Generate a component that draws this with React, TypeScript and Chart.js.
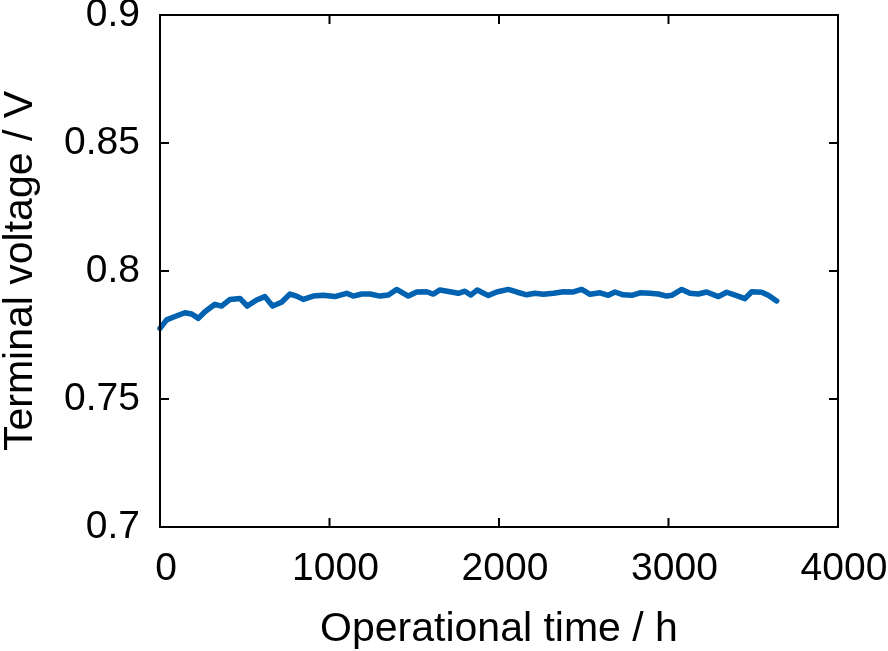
import React, { useEffect, useRef } from "react";
import { Chart, registerables } from "chart.js";

Chart.register(...registerables);

const times = [0, 39, 88, 147, 187, 226, 265, 324, 363, 413, 472, 515, 570, 619, 664, 717, 767, 806, 845, 904, 963, 1032, 1101, 1140, 1190, 1239, 1298, 1347, 1396, 1465, 1514, 1573, 1612, 1652, 1711, 1760, 1799, 1833, 1872, 1937, 1986, 2055, 2104, 2163, 2212, 2262, 2321, 2380, 2439, 2488, 2537, 2596, 2645, 2684, 2733, 2783, 2832, 2891, 2940, 2989, 3019, 3078, 3127, 3176, 3225, 3294, 3343, 3402, 3451, 3491, 3550, 3589, 3638];
const voltages = [0.7776, 0.7809, 0.7822, 0.7837, 0.7832, 0.7815, 0.7841, 0.787, 0.7863, 0.7889, 0.7893, 0.7863, 0.7887, 0.79, 0.7863, 0.7878, 0.791, 0.7902, 0.7889, 0.7902, 0.7905, 0.79, 0.7913, 0.7902, 0.791, 0.791, 0.7902, 0.7906, 0.7928, 0.7902, 0.7918, 0.7919, 0.791, 0.7926, 0.7919, 0.7913, 0.7921, 0.7906, 0.7926, 0.7904, 0.7918, 0.7928, 0.7918, 0.7907, 0.7913, 0.7909, 0.7913, 0.7919, 0.7918, 0.7928, 0.7909, 0.7915, 0.7905, 0.7918, 0.7907, 0.7905, 0.7915, 0.7913, 0.791, 0.7902, 0.7905, 0.7928, 0.7913, 0.791, 0.7918, 0.79, 0.7917, 0.7904, 0.7892, 0.7919, 0.7917, 0.7905, 0.7883];

const xTicks = [0, 1000, 2000, 3000, 4000];
const yTicks = [0.7, 0.75, 0.8, 0.85, 0.9];
const xTitle = "Operational time / h";
const yTitle = "Terminal voltage / V";

const FONT = "'Liberation Sans', Arial, Helvetica, sans-serif";

const framePlugin = {
  id: "frame",
  afterDatasetsDraw(chart: any) {
    const { ctx, chartArea } = chart;
    const { left, right, top, bottom } = chartArea;
    const xs = chart.scales.x;
    const ys = chart.scales.y;
    const tl = 9;
    ctx.save();
    ctx.strokeStyle = "#000";
    ctx.lineWidth = 2;
    ctx.beginPath();
    xTicks.forEach((v) => {
      const px = xs.getPixelForValue(v);
      ctx.moveTo(px, bottom);
      ctx.lineTo(px, bottom - tl);
      ctx.moveTo(px, top);
      ctx.lineTo(px, top + tl);
    });
    yTicks.forEach((v) => {
      const py = ys.getPixelForValue(v);
      ctx.moveTo(left, py);
      ctx.lineTo(left + tl, py);
      ctx.moveTo(right, py);
      ctx.lineTo(right - tl, py);
    });
    ctx.stroke();
    ctx.strokeRect(left, top, right - left, bottom - top);
    ctx.restore();
  },
};

export default function App() {
  const ref = useRef<HTMLCanvasElement>(null);
  useEffect(() => {
    if (!ref.current) return;
    const chart = new Chart(ref.current, {
      type: "line",
      data: {
        datasets: [
          {
            data: times.map((t, i) => ({ x: t, y: voltages[i] })),
            borderColor: "#0062b0",
            borderWidth: 5.5,
            pointRadius: 0,
            fill: false,
            tension: 0,
            clip: false as any,
            borderJoinStyle: "round",
            borderCapStyle: "round",
          },
        ],
      },
      options: {
        responsive: false,
        animation: false,
        layout: { padding: { top: 15, right: 50, left: 0, bottom: 0 } },
        plugins: { legend: { display: false }, tooltip: { enabled: false } },
        scales: {
          x: {
            type: "linear",
            min: 0,
            max: 4000,
            afterBuildTicks: (s: any) => {
              s.ticks = xTicks.map((v) => ({ value: v }));
            },
            afterFit: (s: any) => {
              s.height = 124;
              s.paddingLeft = 0;
              s.paddingRight = 0;
            },
            grid: { display: false, drawTicks: false },
            border: { display: false },
            ticks: {
              padding: 19,
              labelOffset: 6,
              color: "#000",
              maxRotation: 0,
              font: { family: FONT, size: 39 },
              callback: (v: any) => String(v),
            },
            title: {
              display: true,
              text: xTitle,
              color: "#000",
              font: { family: FONT, size: 41, lineHeight: 1 },
              padding: { top: 0, bottom: 1 },
            },
          },
          y: {
            type: "linear",
            min: 0.7,
            max: 0.9,
            afterBuildTicks: (s: any) => {
              s.ticks = yTicks.map((v) => ({ value: v }));
            },
            afterFit: (s: any) => {
              s.width = 160;
              s.paddingTop = 0;
              s.paddingBottom = 0;
            },
            grid: { display: false, drawTicks: false },
            border: { display: false },
            ticks: {
              padding: 20,
              color: "#000",
              font: { family: FONT, size: 39 },
              callback: (v: any) => String(Number(Number(v).toFixed(2))),
            },
            title: {
              display: true,
              text: yTitle,
              color: "#000",
              font: { family: FONT, size: 41, lineHeight: 1 },
              padding: { top: 0, bottom: 0 },
            },
          },
        },
      },
      plugins: [framePlugin],
    });
    return () => chart.destroy();
  }, []);
  return (
    <div style={{ position: "absolute", left: 0, top: 0, width: 888, height: 651, background: "#fff" }}>
      <canvas ref={ref} width={888} height={651} style={{ display: "block" }} />
    </div>
  );
}
